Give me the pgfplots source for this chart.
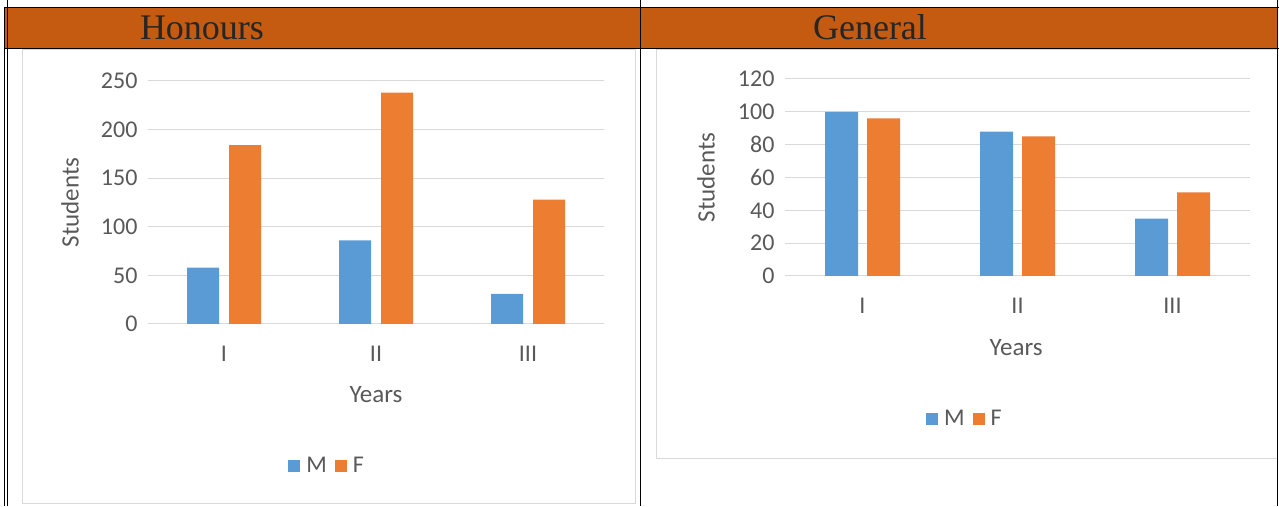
\documentclass[border=0pt]{standalone}
\usepackage{fontspec}
\setmainfont{Liberation Serif}
\newfontfamily\calfont{Carlito}
\usepackage{pgfplots}
\pgfplotsset{compat=1.18}
\definecolor{hdr}{HTML}{C55A11}
\definecolor{mblue}{HTML}{5B9BD5}
\definecolor{forange}{HTML}{ED7D31}
\definecolor{gridc}{HTML}{D9D9D9}
\definecolor{txt}{HTML}{595959}
\definecolor{panelc}{HTML}{D9D9D9}
\pgfplotsset{
  xlchart/.style={
    scale only axis,
    xmin=0.5, xmax=3.5,
    xtick={1,2,3}, xticklabels={I,II,III},
    axis line style={draw=none},
    major tick length=0pt,
    ymajorgrids, grid style={gridc, line width=1pt},
    tick label style={font=\calfont\fontsize{24}{24}\selectfont, text=txt},
    xticklabel style={yshift=-19pt},
    yticklabel style={xshift=-7pt},
    label style={font=\calfont\fontsize{25}{25}\selectfont, text=txt},
    ylabel=Students, xlabel=Years,
    /pgf/number format/assume math mode=true,
    legend columns=2,
    legend style={draw=none, fill=none, font=\calfont\fontsize{24}{24}\selectfont, text=txt,
      /tikz/every even column/.append style={column sep=6pt}},
    legend image code/.code={\fill[##1] (0pt,-6pt) rectangle (12pt,6pt); \path (16pt,0pt);},
  }
}
\begin{document}
\begin{tikzpicture}[x=1pt,y=1pt]
\useasboundingbox (0,0) rectangle (1279,506);
% header band
\fill[hdr] (5,458) rectangle (1277.5,499);
% panels
\draw[panelc, line width=1pt] (22,3) rectangle (635,456);
\draw[panelc, line width=1pt] (656,48) rectangle (1277,456);
% table lines
\draw[black, line width=0.9pt] (4.7,0) -- (4.7,499);
\draw[black, line width=0.9pt] (7.7,0) -- (7.7,506);
\draw[black, line width=0.9pt] (4.7,499) -- (1279,499);
\draw[black, line width=0.9pt] (4.7,458) -- (1279,458);
\draw[black, line width=0.9pt] (640.5,0) -- (640.5,506);
\draw[black, line width=0.9pt] (1277.8,0) -- (1277.8,506);
% header text
\node[anchor=base, font=\fontsize{36}{36}\selectfont, text=black!85] at (202,466) {Honours};
\node[anchor=base, font=\fontsize{36}{36}\selectfont, text=black!85] at (870,466) {General};

\begin{axis}[xlchart,
  at={(148pt,182pt)}, anchor=south west,
  width=456pt, height=243pt,
  ymin=0, ymax=250, ytick={0,50,100,150,200,250},
  xlabel style={at={(axis description cs:0.5,-0.292)}, anchor=center},
  ylabel style={at={(axis description cs:-0.171,0.5)}, anchor=center},
  legend style={at={(axis description cs:0.393,-0.584)}, anchor=center},
]
\addplot[ybar, bar width=32pt, bar shift=-21pt, fill=mblue, draw=none] coordinates {(1,58) (2,86) (3,31)};
\addplot[ybar, bar width=32pt, bar shift=21pt, fill=forange, draw=none] coordinates {(1,184) (2,238) (3,128)};
\legend{M,F}
\end{axis}

\begin{axis}[xlchart,
  at={(785pt,230pt)}, anchor=south west,
  width=465pt, height=197pt,
  ymin=0, ymax=120, ytick={0,20,40,60,80,100,120},
  xlabel style={at={(axis description cs:0.497,-0.365)}, anchor=center},
  ylabel style={at={(axis description cs:-0.170,0.5)}, anchor=center},
  legend style={at={(axis description cs:0.387,-0.726)}, anchor=center},
]
\addplot[ybar, bar width=33pt, bar shift=-21pt, fill=mblue, draw=none] coordinates {(1,100) (2,88) (3,35)};
\addplot[ybar, bar width=33pt, bar shift=21pt, fill=forange, draw=none] coordinates {(1,96) (2,85) (3,51)};
\legend{M,F}
\end{axis}
\end{tikzpicture}
\end{document}
